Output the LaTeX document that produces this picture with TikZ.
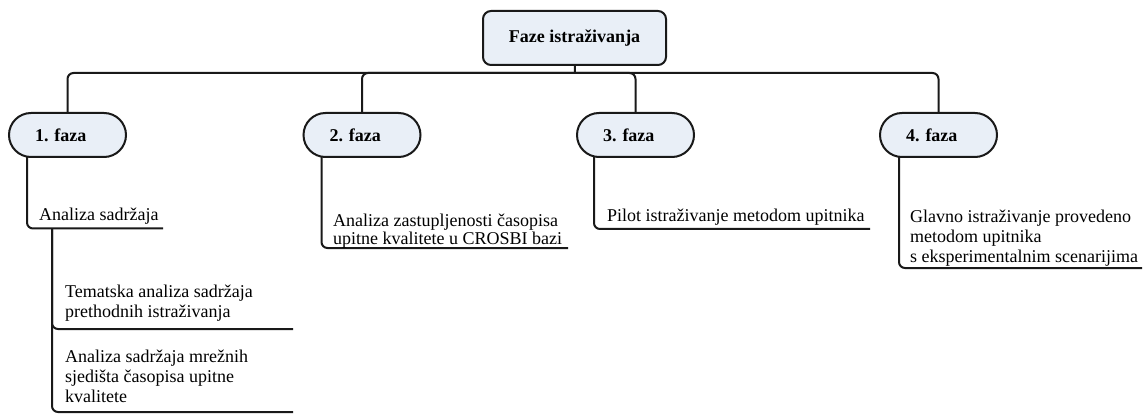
\documentclass[tikz,border=0pt]{standalone}
\usepackage{fontspec}
\setmainfont{Liberation Serif}
\usetikzlibrary{backgrounds}
\definecolor{boxfill}{RGB}{233,239,247}
\definecolor{ink}{RGB}{25,25,25}
\begin{document}
\begin{tikzpicture}[x=1pt,y=-1pt,
  conn/.style={draw=ink,line width=2pt,rounded corners=6pt},
  rootbox/.style={draw=ink,line width=2pt,fill=boxfill,rounded corners=8pt,minimum width=183pt,minimum height=54pt,inner sep=0pt,font=\fontsize{18}{20}\selectfont\bfseries\frenchspacing},
  phase/.style={draw=ink,line width=2pt,fill=boxfill,rounded corners=22pt,minimum height=44pt,text width=65pt,inner xsep=26pt,inner ysep=0pt,align=left,font=\fontsize{18}{20}\selectfont\bfseries\frenchspacing},
  leaf/.style={anchor=base west,inner sep=0pt,align=left,font=\fontsize{18}{20}\selectfont\frenchspacing}]
\useasboundingbox (0,0) rectangle (1143,414);

\node[rootbox] (root) at (574.5,38) {Faze istraživanja};
\node[phase] (p1) at (67.5,135) {1. faza};
\node[phase] (p2) at (362,135) {2. faza};
\node[phase] (p3) at (635.5,135) {3. faza};
\node[phase] (p4) at (938.5,135) {4. faza};

\node[leaf] (l1) at (39,221) {Analiza sadržaja};
\node[leaf,font=\fontsize{18}{18}\selectfont] (l2) at (333,244) {Analiza zastupljenosti časopisa\\upitne kvalitete u CROSBI bazi};
\node[leaf] (l3) at (607,222) {Pilot istraživanje metodom upitnika};
\node[leaf] (l4) at (910,262) {Glavno istraživanje provedeno\\metodom upitnika\\s eksperimentalnim scenarijima};
\node[leaf] (l5) at (65,317) {Tematska analiza sadržaja\\prethodnih istraživanja};
\node[leaf] (l6) at (65,402) {Analiza sadržaja mrežnih\\sjedišta časopisa upitne\\kvalitete};

\coordinate (bus) at (575,73);
\coordinate (u1) at (163,228.5);
\coordinate (u2) at (568,248);
\coordinate (u3) at (870,229);
\coordinate (u4) at (1142,268);
\coordinate (j1) at (52,228.5);
\coordinate (u5) at (293,329);
\coordinate (u6) at (293,412);

\begin{scope}[on background layer]
\draw[conn] (root) -- (bus);
\draw[conn] (bus) -| (p1);
\draw[conn] (bus) -| (p2);
\draw[conn] (bus) -| (p3);
\draw[conn] (bus) -| (p4);
\draw[conn] ([xshift=19pt]p1.west) |- (u1);
\draw[conn] ([xshift=19pt]p2.west) |- (u2);
\draw[conn] ([xshift=18pt]p3.west) |- (u3);
\draw[conn] ([xshift=20pt]p4.west) |- (u4);
\draw[conn] (j1) |- (u5);
\draw[conn] (j1) |- (u6);
\end{scope}
\end{tikzpicture}
\end{document}
